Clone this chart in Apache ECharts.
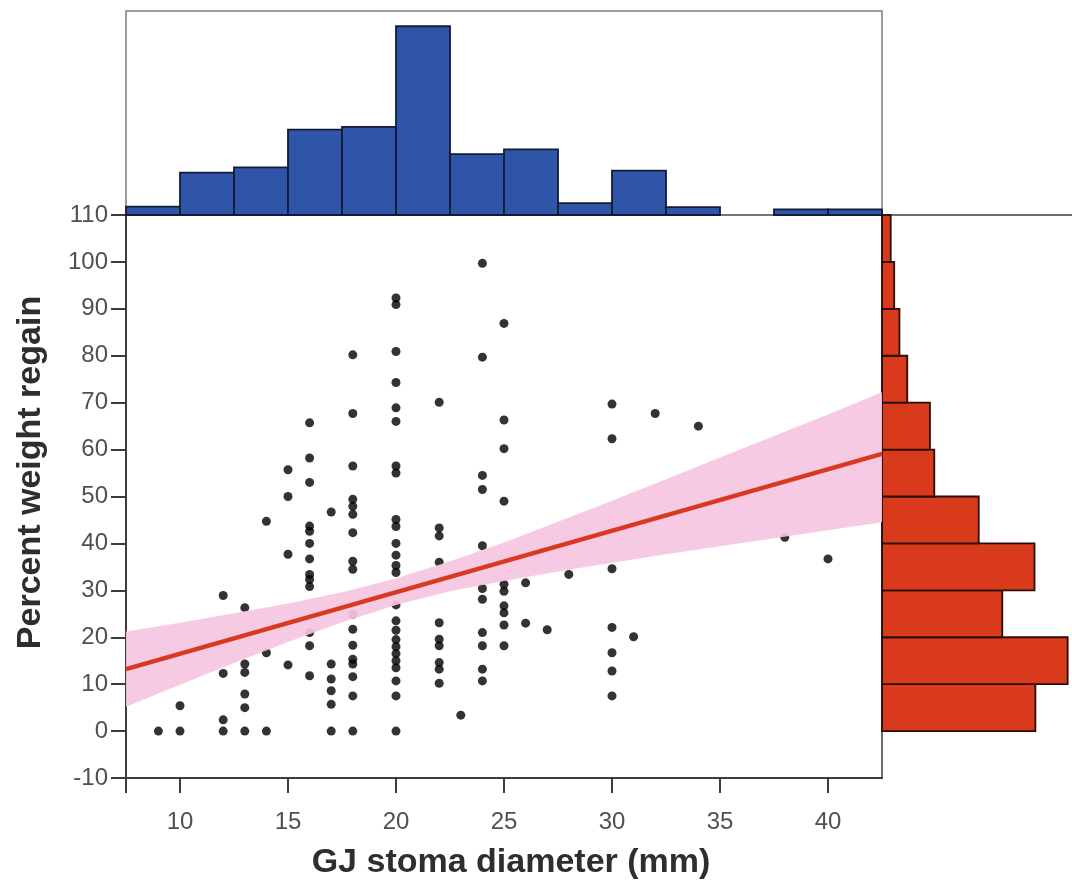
<!DOCTYPE html>
<html>
<head>
<meta charset="utf-8">
<script src="https://cdn.jsdelivr.net/npm/echarts@6/dist/echarts.min.js"></script>
<style>
  html, body { margin: 0; padding: 0; background: #ffffff; }
  #chart { width: 1072px; height: 880px; }
</style>
</head>
<body>
<div id="chart"></div>
<script>
// One entry per patient: GJ stoma diameter (mm) and percent weight regain
const diameterMm = [
  9,
  10, 10,
  12, 12, 12, 12,
  13, 13, 13, 13, 13, 13,
  14, 14, 14,
  15, 15, 15, 15,
  16, 16, 16, 16, 16, 16, 16, 16, 16, 16, 16, 16, 16,
  17, 17, 17, 17, 17, 17,
  18, 18, 18, 18, 18, 18, 18, 18, 18, 18, 18, 18, 18, 18, 18, 18, 18,
  20, 20, 20, 20, 20, 20, 20, 20, 20, 20, 20, 20, 20, 20, 20, 20, 20, 20, 20, 20, 20, 20, 20, 20, 20,
  22, 22, 22, 22, 22, 22, 22, 22, 22, 22,
  23,
  24, 24, 24, 24, 24, 24, 24, 24, 24, 24, 24,
  25, 25, 25, 25, 25, 25, 25, 25, 25, 25,
  26, 26,
  27,
  28,
  30, 30, 30, 30, 30, 30, 30,
  31,
  32,
  34,
  38,
  40
];
const weightRegainPct = [
  0,
  0, 5.4,
  0, 2.4, 12.3, 28.9,
  0, 5.0, 7.9, 12.5, 14.3, 26.3,
  0, 16.7, 44.7,
  14.1, 37.7, 50.0, 55.7,
  11.8, 18.2, 21.0, 30.8, 32.3, 33.4, 36.7, 40.0, 42.6, 43.7, 53.0, 58.2, 65.7,
  0, 5.7, 8.6, 11.1, 14.3, 46.7,
  0, 7.5, 11.6, 14.3, 15.3, 18.3, 21.7, 24.9, 34.5, 36.2, 42.3, 46.2, 47.9, 49.4, 56.5, 67.7, 80.2,
  0, 7.5, 10.7, 13.5, 15.0, 16.5, 18.0, 19.5, 21.5, 23.5, 26.9, 33.8, 35.3, 37.5, 40.0, 43.6, 45.1, 55.0, 56.5, 66.0, 68.9, 74.3, 80.9, 90.9, 92.3,
  10.2, 13.2, 14.6, 18.2, 19.6, 23.1, 36.0, 41.6, 43.3, 70.1,
  3.4,
  10.7, 13.2, 18.2, 21.0, 28.1, 30.4, 39.5, 51.5, 54.5, 79.7, 99.7,
  18.2, 22.6, 25.2, 26.7, 29.8, 31.3, 49.0, 60.2, 66.3, 86.9,
  23.0, 31.6,
  21.6,
  33.4,
  7.5, 12.8, 16.7, 22.1, 34.6, 62.3, 69.7,
  20.1,
  67.7,
  65.0,
  41.3,
  36.7
];

// Linear fit across the axis range, with its 95% confidence band
const fitX = [7.5, 42.5];
const fitY = [13.2, 59.1];
const bandX    = [7.5, 10, 12.5, 15, 17.5, 20, 22.5, 25, 27.5, 30, 32.5, 35, 37.5, 40, 42.5];
const bandLow  = [5.2, 9.9, 14.5, 19.0, 23.2, 26.9, 29.8, 32.0, 34.0, 35.9, 37.7, 39.4, 41.1, 42.8, 44.5];
const bandHigh = [21.2, 23.1, 25.1, 27.2, 29.6, 32.5, 36.2, 40.2, 44.6, 49.1, 53.7, 58.3, 62.9, 67.5, 72.2];

// Marginal histogram of stoma diameter (percent of patients per 2.5 mm bin)
const diameterBinEdges = [7.5, 10, 12.5, 15, 17.5, 20, 22.5, 25, 27.5, 30, 32.5, 35, 37.5, 40, 42.5];
const diameterBinPct = [1.25, 6.4, 7.2, 12.9, 13.3, 28.5, 9.2, 9.9, 1.8, 6.7, 1.2, 0, 0.86, 0.86];

// Marginal histogram of weight regain (percent of patients per 10% bin)
const regainBinEdges = [0, 10, 20, 30, 40, 50, 60, 70, 80, 90, 100, 110];
const regainBinPct = [17.6, 21.3, 13.8, 17.5, 11.1, 6.0, 5.5, 2.9, 2.0, 1.4, 1.0];

// Axis ticks
const xTickValues = [7.5, 10, 15, 20, 25, 30, 35, 40];
const xLabelValues = [10, 15, 20, 25, 30, 35, 40];
const yMin = -10, yMax = 110, yStep = 10;

const FONT = '"Liberation Sans", Arial, Helvetica, sans-serif';
const AXIS_COLOR = '#3c3c3c';

const points = diameterMm.map((d, i) => [d, weightRegainPct[i]]);
const fitData = fitX.map((x, i) => [x, fitY[i]]);
const bandData = bandX.map((x, i) => [x, bandLow[i], bandHigh[i]]);
const diameterHist = diameterBinPct.map((p, i) => [diameterBinEdges[i], diameterBinEdges[i + 1], p]);
const regainHist = regainBinPct.map((p, i) => [regainBinEdges[i], regainBinEdges[i + 1], p]);

const chart = echarts.init(document.getElementById('chart'), null, { renderer: 'canvas' });

chart.setOption({
  animation: false,
  backgroundColor: '#ffffff',
  textStyle: { fontFamily: FONT },
  grid: [
    { left: 126, right: 190, top: 215, bottom: 102, show: true, borderColor: AXIS_COLOR, borderWidth: 1.5, containLabel: false, outerBoundsMode: 'none' },
    { left: 126, right: 190, top: 11, bottom: 665, show: true, borderColor: '#7c7c7c', borderWidth: 1.5, containLabel: false, outerBoundsMode: 'none' },
    { left: 882, right: 0, top: 215, bottom: 102, show: false, containLabel: false, outerBoundsMode: 'none' }
  ],
  xAxis: [
    {
      gridIndex: 0, type: 'value', min: 7.5, max: 42.5,
      axisLine: { show: true, onZero: false, lineStyle: { color: AXIS_COLOR, width: 2 } },
      axisTick: { show: true, customValues: xTickValues, length: 15, lineStyle: { color: AXIS_COLOR, width: 2 } },
      axisLabel: { show: true, customValues: xLabelValues, margin: 32, fontSize: 24, color: '#505050', fontFamily: FONT },
      splitLine: { show: false },
      name: 'GJ stoma diameter (mm)', nameLocation: 'middle', nameGap: 68,
      nameTextStyle: { fontSize: 34, fontWeight: 'bold', color: '#2e2e2e', fontFamily: FONT, padding: [0, 0, 0, 14] }
    },
    { gridIndex: 1, type: 'value', min: 7.5, max: 42.5, show: false },
    {
      gridIndex: 2, type: 'value', min: 0, max: 21.8, position: 'top',
      axisLine: { show: true, onZero: false, lineStyle: { color: AXIS_COLOR, width: 1.5 } },
      axisTick: { show: false }, axisLabel: { show: false }, splitLine: { show: false }
    }
  ],
  yAxis: [
    {
      gridIndex: 0, type: 'value', min: yMin, max: yMax, interval: yStep,
      axisLine: { show: true, onZero: false, lineStyle: { color: AXIS_COLOR, width: 2 } },
      axisTick: { show: true, length: 15, lineStyle: { color: AXIS_COLOR, width: 2 } },
      axisLabel: { show: true, margin: 18, fontSize: 24, color: '#505050', fontFamily: FONT },
      splitLine: { show: false },
      name: 'Percent weight regain', nameLocation: 'middle', nameGap: 78, nameRotate: 90,
      nameTextStyle: { fontSize: 34, fontWeight: 'bold', color: '#2e2e2e', fontFamily: FONT, padding: [0, 0, 0, 48] }
    },
    { gridIndex: 1, type: 'value', min: 0, max: 30.8, show: false },
    { gridIndex: 2, type: 'value', min: yMin, max: yMax, show: false }
  ],
  series: [
    {
      type: 'scatter', xAxisIndex: 0, yAxisIndex: 0, z: 2,
      symbol: 'circle', symbolSize: 9,
      itemStyle: { color: '#000000' },
      data: points
    },
    {
      type: 'custom', xAxisIndex: 0, yAxisIndex: 0, z: 3,
      encode: { x: 0, y: [1, 2] },
      data: bandData,
      renderItem: function (params, api) {
        if (params.dataIndex !== 0) return null;
        const upper = bandData.map(d => api.coord([d[0], d[2]]));
        const lower = bandData.map(d => api.coord([d[0], d[1]])).reverse();
        return {
          type: 'polygon',
          shape: { points: upper.concat(lower) },
          style: { fill: '#f5c5df', opacity: 0.92 }
        };
      }
    },
    {
      type: 'line', xAxisIndex: 0, yAxisIndex: 0, z: 4,
      symbol: 'none',
      lineStyle: { color: '#d8391f', width: 4.5 },
      data: fitData
    },
    {
      type: 'custom', xAxisIndex: 1, yAxisIndex: 1, z: 2,
      encode: { x: [0, 1], y: 2 },
      data: diameterHist,
      renderItem: function (params, api) {
        const h = api.value(2);
        if (!h) return null;
        const a = api.coord([api.value(0), h]);
        const b = api.coord([api.value(1), 0]);
        return {
          type: 'rect',
          shape: { x: a[0], y: a[1], width: b[0] - a[0], height: b[1] - a[1] },
          style: { fill: '#2f55a9', stroke: '#151a36', lineWidth: 1.8 }
        };
      }
    },
    {
      type: 'custom', xAxisIndex: 2, yAxisIndex: 2, z: 2,
      encode: { y: [0, 1], x: 2 },
      data: regainHist,
      renderItem: function (params, api) {
        const w = api.value(2);
        if (!w) return null;
        const a = api.coord([0, api.value(1)]);
        const b = api.coord([w, api.value(0)]);
        return {
          type: 'rect',
          shape: { x: a[0], y: a[1], width: b[0] - a[0], height: b[1] - a[1] },
          style: { fill: '#d83a1b', stroke: '#2a0e08', lineWidth: 1.8 }
        };
      }
    }
  ]
});
</script>
</body>
</html>
